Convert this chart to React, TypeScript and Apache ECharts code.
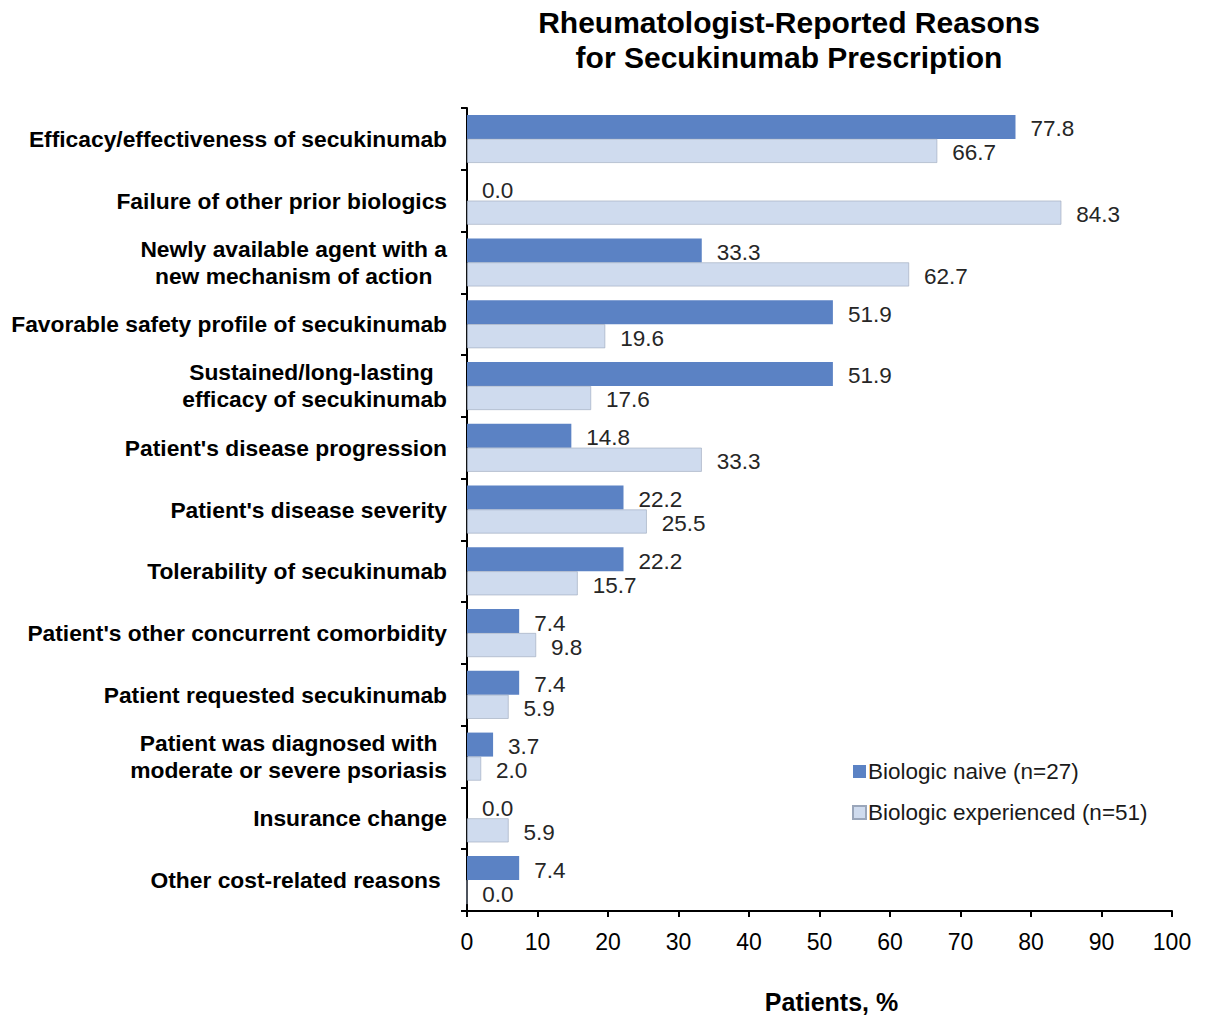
import React, { useEffect, useRef } from "react";
import * as echarts from "echarts";

const categories = [
  "Efficacy/effectiveness of secukinumab",
  "Failure of other prior biologics",
  "Newly available agent with a\nnew mechanism of action",
  "Favorable safety profile of secukinumab",
  "Sustained/long-lasting \nefficacy of secukinumab",
  "Patient's disease progression",
  "Patient's disease severity",
  "Tolerability of secukinumab",
  "Patient's other concurrent comorbidity",
  "Patient requested secukinumab",
  "Patient was diagnosed with\nmoderate or severe psoriasis",
  "Insurance change",
  "Other cost-related reasons ",
];
const naive = [77.8, 0.0, 33.3, 51.9, 51.9, 14.8, 22.2, 22.2, 7.4, 7.4, 3.7, 0.0, 7.4];
const experienced = [66.7, 84.3, 62.7, 19.6, 17.6, 33.3, 25.5, 15.7, 9.8, 5.9, 2.0, 5.9, 0.0];
const xTicks = { min: 0, max: 100, interval: 10 };
const seriesNames = ["Biologic naive (n=27)", "Biologic experienced (n=51)"];

const FONT = "'Liberation Sans', Arial, sans-serif";

export default function App() {
  const ref = useRef<HTMLDivElement>(null);
  useEffect(() => {
    if (!ref.current) return;
    const chart = echarts.init(ref.current, undefined, { renderer: "svg" });
    const labelCommon = {
      show: true,
      position: "right" as const,
      distance: 15,
      offset: [0, 2],
      fontSize: 22.5,
      fontFamily: FONT,
      color: "#262626",
      formatter: (p: any) => Number(p.value).toFixed(1),
    };
    chart.setOption({
      animation: false,
      backgroundColor: "#ffffff",
      title: {
        text: "Rheumatologist-Reported Reasons\nfor Secukinumab Prescription",
        left: 784,
        top: 0,
        textAlign: "center",
        textStyle: {
          fontFamily: FONT,
          fontWeight: "bold",
          fontSize: 30,
          lineHeight: 35,
          color: "#000",
        },
      },
      legend: {
        orient: "vertical",
        left: 847,
        top: 755,
        itemWidth: 13,
        itemHeight: 13,
        itemGap: 18,
        icon: "rect",
        textStyle: { fontFamily: FONT, fontSize: 22.5, color: "#1a1a1a", padding: [0, 0, 0, -3] },
        data: seriesNames,
      },
      grid: {
        left: 467,
        right: 34,
        top: 108,
        bottom: 104,
        containLabel: false,
        outerBoundsMode: "none",
      },
      xAxis: {
        type: "value",
        min: xTicks.min,
        max: xTicks.max,
        interval: xTicks.interval,
        name: "Patients, %",
        nameLocation: "middle",
        nameGap: 78,
        nameTextStyle: { fontFamily: FONT, fontWeight: "bold", fontSize: 25, color: "#000", padding: [0, 0, 0, 24] },
        axisLine: { show: true, lineStyle: { color: "#000", width: 2 } },
        axisTick: { show: true, length: 6, lineStyle: { color: "#000", width: 2 } },
        axisLabel: { fontFamily: FONT, fontSize: 23, color: "#000", margin: 19 },
        splitLine: { show: false },
      },
      yAxis: {
        type: "category",
        inverse: true,
        data: categories,
        axisLine: { show: true, lineStyle: { color: "#000", width: 2 } },
        axisTick: { show: true, length: 6, lineStyle: { color: "#000", width: 2 } },
        axisLabel: {
          margin: 20,
          fontFamily: FONT,
          fontWeight: "bold",
          fontSize: 22.8,
          color: "#000",
          lineHeight: 27,
          formatter: (v: string) =>
            v
              .split("\n")
              .map((l) => "{c|" + l + "}")
              .join("\n"),
          rich: {
            c: {
              align: "center",
              fontFamily: FONT,
              fontWeight: "bold",
              fontSize: 22.8,
              color: "#000",
              lineHeight: 27,
            },
          },
        },
      },
      series: [
        {
          name: seriesNames[0],
          type: "bar",
          data: naive,
          barWidth: 24,
          barGap: "0%",
          itemStyle: { color: "#5b82c4" },
          label: labelCommon,
        },
        {
          name: seriesNames[1],
          type: "bar",
          data: experienced,
          barWidth: 24,
          barGap: "0%",
          itemStyle: { color: "#cfdbee", borderColor: "#9aa6ba", borderWidth: 0.6 },
          label: labelCommon,
        },
      ],
    });
    return () => chart.dispose();
  }, []);
  return <div ref={ref} style={{ width: 1206, height: 1015, marginLeft: -8, marginTop: -8 }} />;
}
